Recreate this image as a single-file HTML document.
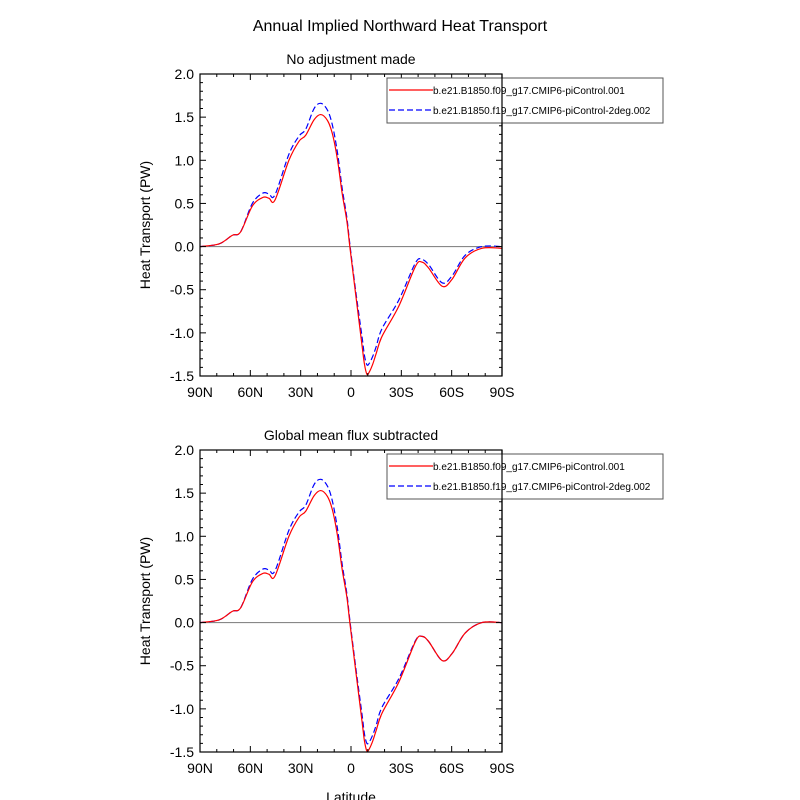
<!DOCTYPE html>
<html><head><meta charset="utf-8"><style>
body{margin:0;background:#fff;}
svg{display:block;font-family:"Liberation Sans",sans-serif;}
</style></head><body>
<svg id="chart" width="800" height="800" viewBox="0 0 800 800">
<text x="400" y="31" text-anchor="middle" font-size="16">Annual Implied Northward Heat Transport</text>
<g id="p1"></g>
<g id="p2"></g>
</svg>
<script>
const lats = [90,78.7,70.8,65.8,58.8,52.5,48.9,45.3,37,31,27,22,18,14,11,8,5.3,2.5,0.7,-2.7,-6.6,-8,-9.5,-11,-13,-15,-18.5,-28.5,-38.4,-42.3,-46.3,-54.3,-60.2,-68.1,-78,-90];
const red1 = [0,0.03,0.13,0.17,0.47,0.57,0.56,0.54,1.0,1.22,1.29,1.47,1.53,1.46,1.30,1.0,0.62,0.3,0,-0.54,-1.15,-1.36,-1.48,-1.45,-1.36,-1.24,-1.04,-0.69,-0.23,-0.18,-0.25,-0.46,-0.38,-0.13,-0.02,-0.02];
const blue1 = [0,0.03,0.13,0.17,0.5,0.62,0.61,0.6,1.07,1.28,1.36,1.6,1.66,1.58,1.40,1.08,0.68,0.34,0.03,-0.5,-1.05,-1.26,-1.37,-1.35,-1.27,-1.16,-0.95,-0.62,-0.19,-0.15,-0.21,-0.42,-0.34,-0.1,0,0];
const red2 = [0,0.03,0.13,0.17,0.47,0.57,0.56,0.54,1.0,1.22,1.29,1.47,1.53,1.46,1.30,1.0,0.62,0.3,0,-0.54,-1.15,-1.37,-1.49,-1.46,-1.37,-1.25,-1.05,-0.69,-0.22,-0.16,-0.22,-0.44,-0.36,-0.12,0,0];
const blue2 = [0,0.03,0.13,0.17,0.5,0.62,0.61,0.6,1.07,1.28,1.36,1.6,1.66,1.58,1.40,1.08,0.68,0.34,0.03,-0.5,-1.07,-1.29,-1.40,-1.38,-1.30,-1.19,-0.98,-0.65,-0.21,-0.16,-0.22,-0.44,-0.36,-0.12,0,0];
const yTicks = [2.0,1.5,1.0,0.5,0.0,-0.5,-1.0,-1.5];
const xTickVals = [90,60,30,0,-30,-60,-90];
const xTickLabels = ["90N","60N","30N","0","30S","60S","90S"];
const legendLabels = ["b.e21.B1850.f09_g17.CMIP6-piControl.001","b.e21.B1850.f19_g17.CMIP6-piControl-2deg.002"];
const NS="http://www.w3.org/2000/svg";
function mk(parent,tag,attrs,txt){const e=document.createElementNS(NS,tag);for(const k in attrs)e.setAttribute(k,attrs[k]);if(txt!==undefined)e.textContent=txt;parent.appendChild(e);return e;}
function panel(g,top,title,red,blue,showXTitle){
  const L=200,R=502,T=top,B=top+302;
  const xs=lat=>L+(90-lat)/180*(R-L);
  const ys=v=>B-(v+1.5)/3.5*(B-T);
  let t=mk(g,'text',{x:(L+R)/2,y:T-10,'text-anchor':'middle','font-size':14},title);
  
  
  let z=mk(g,'line',{x1:L,x2:R,y1:ys(0),y2:ys(0),stroke:'#888','stroke-width':1.2});
  
  
  function path(vals,color,dash,name){
    const p=lats.map((la,i)=>[xs(la),ys(vals[i])]);
    let d='M'+p[0][0]+','+p[0][1];
    for(let i=0;i<p.length-1;i++){
      const p0=p[Math.max(i-1,0)],p1=p[i],p2=p[i+1],p3=p[Math.min(i+2,p.length-1)];
      const c1=[p1[0]+(p2[0]-p0[0])/6,p1[1]+(p2[1]-p0[1])/6];
      const c2=[p2[0]-(p3[0]-p1[0])/6,p2[1]-(p3[1]-p1[1])/6];
      d+=` C${c1[0]},${c1[1]} ${c2[0]},${c2[1]} ${p2[0]},${p2[1]}`;
    }
    const e=mk(g,'path',{d:d,fill:'none',stroke:color,'stroke-width':1.2,'stroke-dasharray':dash});
    
    
  }
  path(blue,'#0000ff','6,3','series-2deg-line');
  path(red,'#ff0000','none','series-f09-line');
  let f=mk(g,'rect',{x:L,y:T,width:R-L,height:B-T,fill:'none',stroke:'#000','stroke-width':1.2});
  
  
  for(let v=-1.5;v<=2.001;v+=0.1){
    const major=Math.abs(v*2-Math.round(v*2))<0.01;const len=major?6:3;const y=ys(v);
    mk(g,'line',{x1:L,x2:L+len,y1:y,y2:y,stroke:'#000'});
    mk(g,'line',{x1:R,x2:R-len,y1:y,y2:y,stroke:'#000'});
  }
  yTicks.forEach(v=>{const e=mk(g,'text',{x:L-6,y:ys(v)+5,'text-anchor':'end','font-size':14},v.toFixed(1));
    
    });
  for(let la=-90;la<=90;la+=10){
    const major=la%30===0;const len=major?6:3;const x=xs(la);
    mk(g,'line',{x1:x,x2:x,y1:B,y2:B-len,stroke:'#000'});
    mk(g,'line',{x1:x,x2:x,y1:T,y2:T+len,stroke:'#000'});
  }
  xTickVals.forEach((v,i)=>{const e=mk(g,'text',{x:xs(v),y:B+21,'text-anchor':'middle','font-size':14},xTickLabels[i]);
    
    });
  const yt=mk(g,'text',{x:0,y:0,'text-anchor':'middle','font-size':14,transform:`translate(150,${(T+B)/2}) rotate(-90)`},'Heat Transport (PW)');
  
  
  if(showXTitle){const xt=mk(g,'text',{x:(L+R)/2,y:B+50,'text-anchor':'middle','font-size':14},'Latitude');
    
    }
  const lg=mk(g,'g',{});
  
  
  mk(lg,'rect',{x:387,y:T+4,width:276,height:45,fill:'#fff',stroke:'#555','stroke-width':1});
  mk(lg,'line',{x1:389,x2:433,y1:T+16,y2:T+16,stroke:'#ff0000','stroke-width':1.2});
  mk(lg,'line',{x1:389,x2:433,y1:T+36,y2:T+36,stroke:'#0000ff','stroke-width':1.2,'stroke-dasharray':'6,3'});
  const l1=mk(lg,'text',{x:433,y:T+20,'font-size':10},legendLabels[0]);
  
  
  const l2=mk(lg,'text',{x:433,y:T+40,'font-size':10},legendLabels[1]);
  
  
  mk(g,'line',{x1:R,x2:R,y1:T,y2:B,stroke:'#000','stroke-width':1.2});
}
panel(document.getElementById('p1'),74,'No adjustment made',red1,blue1,false);
panel(document.getElementById('p2'),450,'Global mean flux subtracted',red2,blue2,true);
</script>
</body></html>
